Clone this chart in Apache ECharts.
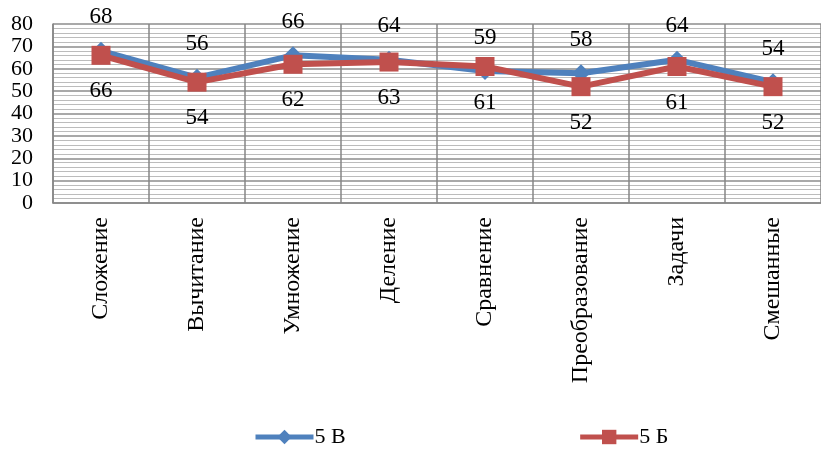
<!DOCTYPE html>
<html>
<head>
<meta charset="utf-8">
<script src="https://cdn.jsdelivr.net/npm/echarts@6/dist/echarts.min.js"></script>
<style>
  html, body { margin: 0; padding: 0; background: #fff; }
  #chart { width: 821px; height: 456px; }
</style>
</head>
<body>
<div id="chart"></div>
<script>
// Topics of the test
const categories = ['Сложение', 'Вычитание', 'Умножение', 'Деление', 'Сравнение', 'Преобразование', 'Задачи', 'Смешанные'];
// Results per class, %
const class5V = [68, 56, 66, 64, 59, 58, 64, 54];
const class5B = [66, 54, 62, 63, 61, 52, 61, 52];
const seriesNames = ['5 В', '5 Б'];

const FONT = '"Liberation Serif", "Times New Roman", serif';
const BLUE = '#4F81BD';
const RED = '#C0504D';

const chart = echarts.init(document.getElementById('chart'), null, { renderer: 'canvas' });
chart.setOption({
  animation: false,
  backgroundColor: '#ffffff',
  textStyle: { fontFamily: FONT, color: '#000' },
  grid: { left: 53, right: -8, top: 24, bottom: 253, containLabel: false },
  legend: {
    bottom: 3,
    left: 248,
    itemWidth: 58,
    itemHeight: 18,
    itemGap: 232,
    lineStyle: { width: 5 },
    textStyle: { fontFamily: FONT, fontSize: 22, color: '#000', padding: [0, 0, 0, -4] },
    data: seriesNames
  },
  xAxis: {
    type: 'category',
    data: categories,
    boundaryGap: true,
    axisLine: { show: true, lineStyle: { color: '#868686', width: 1.5 } },
    axisTick: { show: false },
    splitLine: { show: true, lineStyle: { color: '#868686', width: 1.5 } },
    axisLabel: {
      rotate: 90,
      margin: 14,
      interval: 0,
      fontFamily: FONT,
      fontSize: 24,
      color: '#000'
    }
  },
  yAxis: {
    type: 'value',
    min: 0,
    max: 80,
    interval: 10,
    axisLine: { show: true, lineStyle: { color: '#868686', width: 1.5 } },
    axisTick: { show: false },
    axisLabel: {
      margin: 20,
      fontFamily: FONT,
      fontSize: 22,
      lineHeight: 20,
      color: '#000',
      showMinLabel: true,
      showMaxLabel: true,
      hideOverlap: false
    },
    splitLine: { show: true, lineStyle: { color: '#8c8c8c', width: 1.5 } },
    minorTick: { show: false, splitNumber: 5 },
    minorSplitLine: { show: true, lineStyle: { color: '#bcbcbc', width: 1 } }
  },
  series: [
    {
      name: seriesNames[0],
      type: 'line',
      data: class5V,
      symbol: 'diamond',
      symbolSize: 18,
      lineStyle: { color: BLUE, width: 6 },
      itemStyle: { color: BLUE },
      label: {
        show: true,
        position: 'top',
        distance: 13,
        fontFamily: FONT,
        fontSize: 23,
        color: '#000'
      },
      z: 2
    },
    {
      name: seriesNames[1],
      type: 'line',
      data: class5B,
      symbol: 'rect',
      symbolSize: 19,
      lineStyle: { color: RED, width: 6 },
      itemStyle: { color: RED },
      label: {
        show: true,
        position: 'bottom',
        distance: 15,
        fontFamily: FONT,
        fontSize: 23,
        color: '#000'
      },
      z: 3
    }
  ]
});
</script>
</body>
</html>
